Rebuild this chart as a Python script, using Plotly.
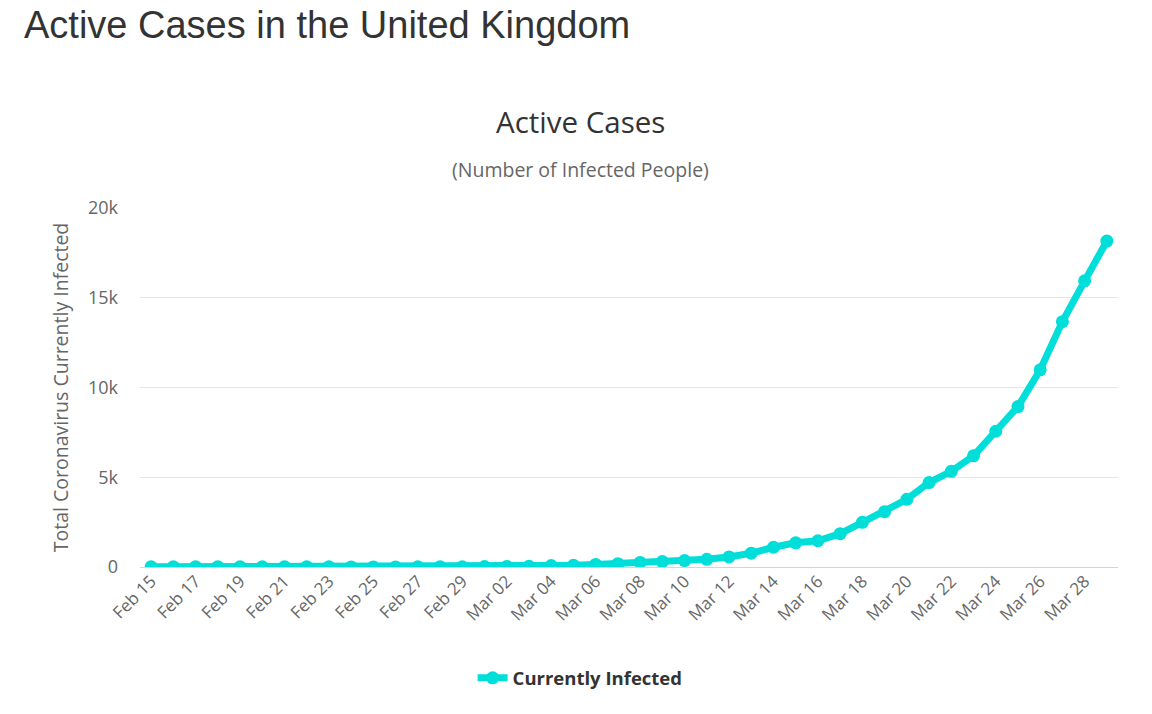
import plotly.graph_objects as go
import pandas as pd

dates = pd.date_range("2020-02-15", "2020-03-29", freq="D")
active = [8, 8, 8, 8, 8, 8, 8, 8, 8, 5, 5, 5, 7, 12, 15,
          28, 32, 43, 77, 96, 145, 188, 255, 301, 358, 430, 562, 769, 1099, 1346,
          1462, 1859, 2488, 3084, 3768, 4705, 5332, 6196, 7563, 8939, 10987, 13669,
          15943, 18159]
series_name = "Currently Infected"
y_ticks = [0, 5000, 10000, 15000, 20000]
y_tick_text = ["0", "5k", "10k", "15k", "20k"]

COLOR = "#00DED9"
FONT = "Open Sans"

fig = go.Figure()
fig.add_trace(go.Scatter(
    x=dates, y=active, name=series_name, mode="lines+markers",
    line=dict(color=COLOR, width=7),
    marker=dict(color=COLOR, size=13),
))

fig.update_layout(
    width=1152, height=714,
    margin=dict(l=132, r=42, t=200, b=155),
    paper_bgcolor="white", plot_bgcolor="white",
    font=dict(family=FONT, color="#666666"),
    showlegend=True,
    legend=dict(orientation="h", x=0.45, xanchor="center", y=-0.31, yanchor="middle",
                font=dict(size=18.5, color="#333333", family=FONT, weight="bold")),
    xaxis=dict(
        range=[pd.Timestamp("2020-02-14 12:00"), pd.Timestamp("2020-03-29 12:00")],
        tickmode="linear", tick0=pd.Timestamp("2020-02-15"), dtick=2 * 86400000,
        tickformat="%b %d", tickangle=-45, showgrid=False, zeroline=False,
        tickfont=dict(size=17, color="#666666"),
        showline=False, ticks="",
    ),
    yaxis=dict(
        range=[0, 20000], tickvals=y_ticks, ticktext=y_tick_text,
        gridcolor="#e6e6e6", gridwidth=1, zeroline=True, zerolinecolor="#ccd6eb",
        zerolinewidth=1, tickfont=dict(size=18, color="#666666"),
        ticklabelstandoff=21,
        title=dict(text="Total Coronavirus Currently Infected",
                   font=dict(size=19.5, color="#666666"), standoff=14),
    ),
    annotations=[
        dict(text="Active Cases in the United Kingdom", xref="paper", yref="paper",
             x=-0.1207, y=1.51, xanchor="left", yanchor="middle", showarrow=False,
             font=dict(family="Liberation Sans", size=38, color="#333333")),
        dict(text="Active Cases", xref="paper", yref="paper",
             x=0.4499, y=1.2396, xanchor="center", yanchor="middle", showarrow=False,
             font=dict(family=FONT, size=29.5, color="#333333")),
        dict(text="(Number of Infected People)", xref="paper", yref="paper",
             x=0.4499, y=1.106, xanchor="center", yanchor="middle", showarrow=False,
             font=dict(family=FONT, size=19.5, color="#666666")),
    ],
)

fig.write_html("out.html")
